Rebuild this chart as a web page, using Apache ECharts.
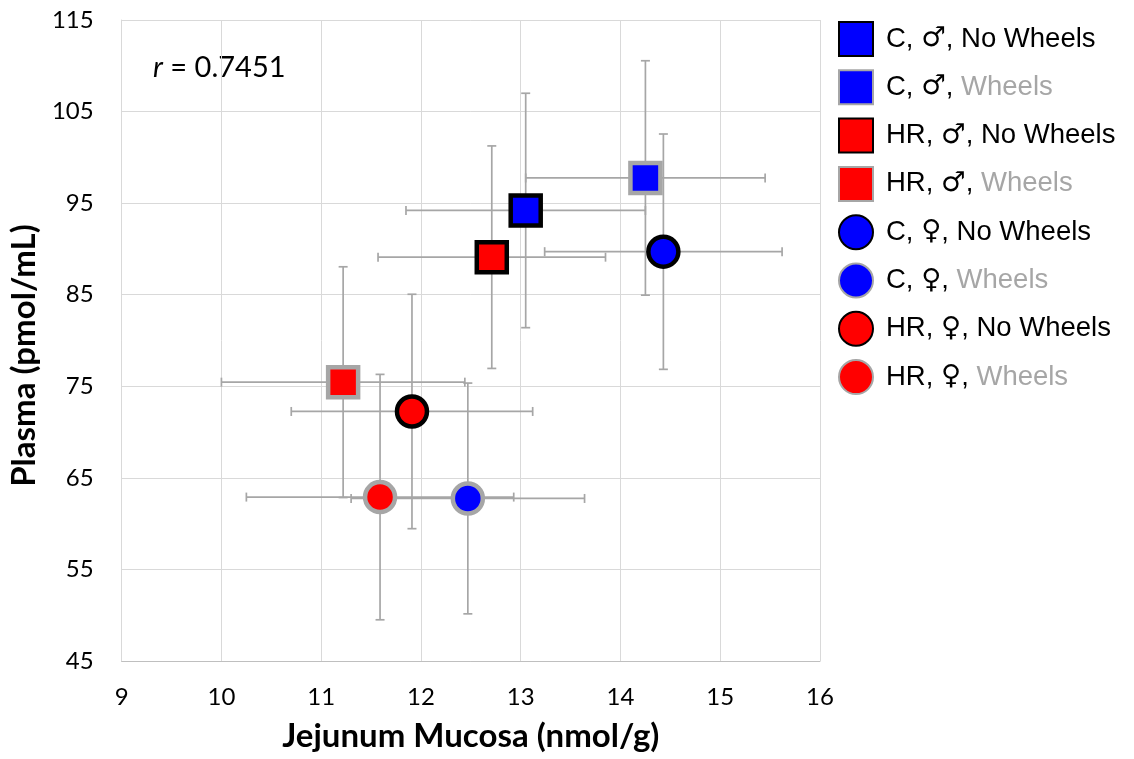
<!DOCTYPE html>
<html>
<head>
<meta charset="utf-8">
<script src="https://cdn.jsdelivr.net/npm/echarts@6/dist/echarts.min.js"></script>
<style>
html,body{margin:0;padding:0;background:#fff}
#main{width:1134px;height:759px}
</style>
</head>
<body>
<div id="main"></div>
<script>
// group means and error (+/-)
var groupNames = ['C, ♂, No Wheels', 'C, ♂, Wheels', 'HR, ♂, No Wheels', 'HR, ♂, Wheels',
                  'C, ♀, No Wheels', 'C, ♀, Wheels', 'HR, ♀, No Wheels', 'HR, ♀, Wheels'];
var mucosa = [13.05, 14.25, 12.71, 11.22, 14.43, 12.47, 11.91, 11.59];
var plasma = [94.2, 97.75, 89.1, 75.45, 89.7, 62.75, 72.25, 62.9];
var mucosaErr = [1.2, 1.2, 1.14, 1.22, 1.19, 1.17, 1.21, 1.34];
var plasmaErr = [12.8, 12.8, 12.15, 12.6, 12.85, 12.6, 12.8, 13.4];
var yTicks = [45, 55, 65, 75, 85, 95, 105, 115];
var rText = '0.7451';

var fills = ['#0000ff', '#0000ff', '#ff0000', '#ff0000', '#0000ff', '#0000ff', '#ff0000', '#ff0000'];
var borders = ['#000000', '#a6a6a6', '#000000', '#a6a6a6', '#000000', '#a6a6a6', '#000000', '#a6a6a6'];
var shapes = ['rect', 'rect', 'rect', 'rect', 'circle', 'circle', 'circle', 'circle'];

var mainDiv = document.getElementById('main');
var myChart = echarts.init(mainDiv);

var errData = [];
for (var i = 0; i < mucosa.length; i++) {
    errData.push([mucosa[i], plasma[i], mucosaErr[i], plasmaErr[i]]);
}

function renderErrorBar(params, api) {
    var x = api.value(0), y = api.value(1), dx = api.value(2), dy = api.value(3);
    var c = api.coord([x, y]);
    var l = api.coord([x - dx, y]);
    var r = api.coord([x + dx, y]);
    var t = api.coord([x, y + dy]);
    var b = api.coord([x, y - dy]);
    var cap = 4.5;
    var st = {stroke: '#a6a6a6', lineWidth: 1.7};
    return {
        type: 'group',
        children: [
            {type: 'line', shape: {x1: l[0], y1: c[1], x2: r[0], y2: c[1]}, style: st},
            {type: 'line', shape: {x1: l[0], y1: c[1] - cap, x2: l[0], y2: c[1] + cap}, style: st},
            {type: 'line', shape: {x1: r[0], y1: c[1] - cap, x2: r[0], y2: c[1] + cap}, style: st},
            {type: 'line', shape: {x1: c[0], y1: t[1], x2: c[0], y2: b[1]}, style: st},
            {type: 'line', shape: {x1: c[0] - cap, y1: t[1], x2: c[0] + cap, y2: t[1]}, style: st},
            {type: 'line', shape: {x1: c[0] - cap, y1: b[1], x2: c[0] + cap, y2: b[1]}, style: st}
        ]
    };
}

var series = [{
    name: 'err',
    type: 'custom',
    renderItem: renderErrorBar,
    encode: {x: 0, y: 1},
    data: errData,
    z: 1,
    silent: true
}];
for (var k = 0; k < groupNames.length; k++) {
    series.push({
        name: groupNames[k],
        type: 'scatter',
        symbol: shapes[k],
        symbolSize: 30,
        itemStyle: {color: fills[k], borderColor: borders[k], borderWidth: 4.5, opacity: 1},
        data: [[mucosa[k], plasma[k]]],
        z: 3
    });
}

var legendFont = 'Liberation Sans';
var option = {
    backgroundColor: '#ffffff',
    animation: false,
    textStyle: {fontFamily: 'Lato'},
    grid: {left: 120, right: 314, top: 20, bottom: 98},
    legend: {
        data: groupNames,
        orient: 'vertical',
        left: 833,
        top: 16,
        itemWidth: 34,
        itemHeight: 34,
        itemGap: 12.3,
        textStyle: {
            fontFamily: legendFont,
            fontSize: 27.5,
            lineHeight: 34,
            color: '#000',
            padding: [0, 0, 0, 8],
            rich: {
                k: {fontFamily: legendFont, fontSize: 27.5, lineHeight: 34, color: '#000'},
                g: {fontFamily: legendFont, fontSize: 27.5, lineHeight: 34, color: '#a6a6a6'},
                s: {fontFamily: 'DejaVu Sans', fontSize: 27.5, lineHeight: 34, color: '#000'}
            }
        },
        formatter: function (name) {
            var parts = name.split(', ');
            var tail = parts[2];
            return parts[0] + ', {s|' + parts[1] + '}, {' + (tail === 'Wheels' ? 'g' : 'k') + '|' + tail + '}';
        }
    },
    xAxis: {
        type: 'value',
        min: 9,
        max: 16,
        interval: 1,
        name: 'Jejunum Mucosa (nmol/g)',
        nameLocation: 'middle',
        nameGap: 59,
        nameTextStyle: {fontFamily: 'Lato', fontWeight: 'bold', fontSize: 33, color: '#000'},
        axisLine: {lineStyle: {color: '#bfbfbf', width: 1}},
        axisTick: {show: false},
        axisLabel: {fontFamily: 'Lato', fontSize: 24, color: '#000', margin: 24},
        splitLine: {lineStyle: {color: '#d9d9d9', width: 1}}
    },
    yAxis: {
        type: 'value',
        min: 45,
        max: 115,
        name: 'Plasma (pmol/mL)',
        nameLocation: 'middle',
        nameGap: 77,
        nameTextStyle: {fontFamily: 'Lato', fontWeight: 'bold', fontSize: 33, color: '#000', padding: [0, 30, 0, 0]},
        axisLine: {show: true, lineStyle: {color: '#d9d9d9', width: 1}},
        axisTick: {show: false, customValues: yTicks},
        axisLabel: {fontFamily: 'Lato', fontSize: 24, color: '#000', margin: 28, customValues: yTicks},
        splitLine: {lineStyle: {color: '#d9d9d9', width: 1}}
    },
    graphic: [{
        type: 'text',
        left: 153,
        top: 53,
        style: {
            text: '{i|r} = ' + rText,
            fontFamily: 'Lato',
            fontSize: 29,
            fill: '#000',
            rich: {i: {fontStyle: 'italic', fontFamily: 'Lato', fontSize: 29}}
        }
    }],
    series: series
};
myChart.setOption(option);
</script>
</body>
</html>
